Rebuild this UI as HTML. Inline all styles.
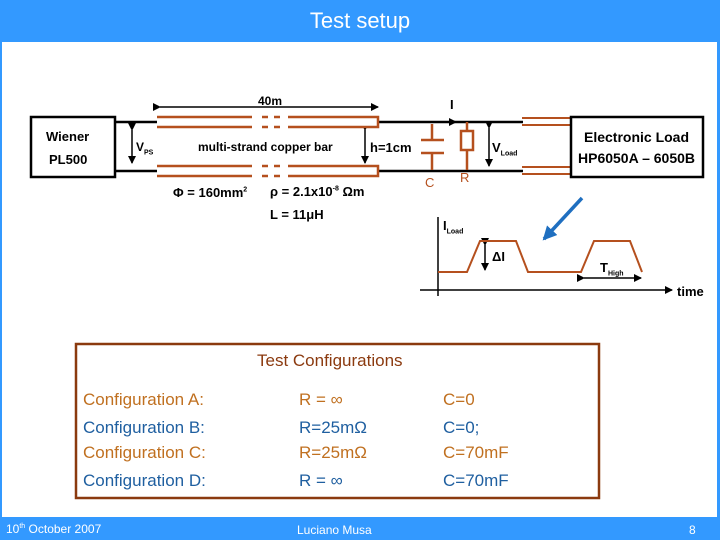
<!DOCTYPE html>
<html><head><style>
body{margin:0;width:720px;height:540px;overflow:hidden;background:#3399FF;font-family:"Liberation Sans",sans-serif;}
#w{position:absolute;left:2px;top:42px;width:715px;height:475px;background:#fff;}
.t{position:absolute;white-space:nowrap;}
</style></head><body>
<div id="w"></div>
<div class="t" style="left:0;width:720px;top:8px;text-align:center;color:#fff;font-size:22px;">Test setup</div>
<svg style="position:absolute;left:0;top:0" width="720" height="540">
<defs><marker id="a" markerWidth="8" markerHeight="8" refX="7" refY="4" orient="auto" markerUnits="userSpaceOnUse"><path d="M0,0 L8,4 L0,8 z" fill="#000"/></marker>
<marker id="b" markerWidth="14" markerHeight="14" refX="12" refY="7" orient="auto" markerUnits="userSpaceOnUse"><path d="M0,0 L14,7 L0,14 z" fill="#1F6FC0"/></marker></defs>
<rect x="31" y="117" width="84" height="60" fill="none" stroke="#000" stroke-width="2.5"/>
<g stroke="#000" stroke-width="2.5"><line x1="115" y1="122" x2="157" y2="122"/><line x1="115" y1="171" x2="157" y2="171"/>
<line x1="378" y1="122" x2="523" y2="122"/><line x1="378" y1="171" x2="523" y2="171"/></g>
<g stroke="#000" stroke-width="1.5" fill="none">
<line x1="132" y1="130" x2="132" y2="163" marker-start="url(#a)" marker-end="url(#a)"/>
<line x1="160" y1="107" x2="378" y2="107" marker-start="url(#a)" marker-end="url(#a)"/>
<line x1="365" y1="130" x2="365" y2="163" marker-start="url(#a)" marker-end="url(#a)"/>
<line x1="489" y1="128" x2="489" y2="166" marker-start="url(#a)" marker-end="url(#a)"/>
<line x1="440" y1="122" x2="456" y2="122" marker-end="url(#a)"/>
<line x1="485" y1="245" x2="485" y2="270" marker-start="url(#a)" marker-end="url(#a)"/>
<line x1="584" y1="278" x2="641" y2="278" marker-start="url(#a)" marker-end="url(#a)"/>
<line x1="438" y1="217" x2="438" y2="296"/>
<line x1="420" y1="290" x2="672" y2="290" marker-end="url(#a)"/>
</g>
<g fill="#fff" stroke="#B5501E" stroke-width="2.5">
<path d="M157,117 H252 M262,117 H268 M274,117 H280 M288,117 H378 V127 H288 M280,127 H274 M268,127 H262 M252,127 H157 Z"/>
<path d="M157,166 H252 M262,166 H268 M274,166 H280 M288,166 H378 V176 H288 M280,176 H274 M268,176 H262 M252,176 H157 Z"/>
</g>
<g stroke="#B5501E" stroke-width="2.5" fill="none">
<line x1="432" y1="124" x2="432" y2="140"/><line x1="421" y1="140" x2="444" y2="140"/>
<line x1="421" y1="153" x2="444" y2="153"/><line x1="432" y1="153" x2="432" y2="170"/>
<line x1="467" y1="122" x2="467" y2="131"/><rect x="461" y="131" width="12" height="19"/><line x1="467" y1="150" x2="467" y2="170"/>
<path d="M522,118 H570 M522,125 H570 M522,167 H570 M522,174 H570" stroke-width="2"/>
<polyline points="438,272 467,272 480,241 516,241 528,272 581,272 594,241 630,241 642,272" stroke-width="2"/>
</g>
<rect x="571" y="117" width="132" height="60" fill="none" stroke="#000" stroke-width="2.5"/>
<line x1="582" y1="198" x2="544" y2="239" stroke="#1F6FC0" stroke-width="3.5" marker-end="url(#b)"/>
<rect x="76" y="344" width="523" height="154" fill="none" stroke="#8B3A0F" stroke-width="2.5"/>
</svg>
<div style="font-size:13px;font-weight:bold;">
<div class="t" style="left:46px;top:129px;">Wiener</div>
<div class="t" style="left:49px;top:152px;">PL500</div>
<div class="t" style="left:136px;top:140px;font-size:12px;">V<sub style="font-size:7px">PS</sub></div>
<div class="t" style="left:198px;top:140px;font-size:12px;">multi-strand copper bar</div>
<div class="t" style="left:258px;top:94px;font-size:12px;">40m</div>
<div class="t" style="left:450px;top:97px;">I</div>
<div class="t" style="left:370px;top:140px;">h=1cm</div>
<div class="t" style="left:492px;top:140px;">V<sub style="font-size:7px">Load</sub></div>
<div class="t" style="left:425px;top:175px;color:#B5501E;font-weight:normal;">C</div>
<div class="t" style="left:460px;top:170px;color:#B5501E;font-weight:normal;">R</div>
<div class="t" style="left:584px;top:129px;font-size:14px;">Electronic Load</div>
<div class="t" style="left:578px;top:150px;font-size:14px;">HP6050A – 6050B</div>
<div class="t" style="left:173px;top:185px;">Φ = 160mm<sup style="font-size:7px">2</sup></div>
<div class="t" style="left:270px;top:184px;">ρ = 2.1x10<sup style="font-size:7px">-8</sup> Ωm</div>
<div class="t" style="left:270px;top:207px;">L = 11μH</div>
<div class="t" style="left:443px;top:218px;">I<sub style="font-size:7px">Load</sub></div>
<div class="t" style="left:492px;top:249px;">ΔI</div>
<div class="t" style="left:600px;top:260px;">T<sub style="font-size:7px">High</sub></div>
<div class="t" style="left:677px;top:284px;">time</div>
</div>
<div style="font-size:17px;">
<div class="t" style="left:257px;top:351px;color:#8B3A0F;">Test Configurations</div>
<div class="t" style="left:83px;top:390px;color:#C07020;">Configuration A:</div>
<div class="t" style="left:299px;top:390px;color:#C07020;">R = ∞</div>
<div class="t" style="left:443px;top:390px;color:#C07020;">C=0</div>
<div class="t" style="left:83px;top:418px;color:#1F5FA0;">Configuration B:</div>
<div class="t" style="left:299px;top:418px;color:#1F5FA0;">R=25mΩ</div>
<div class="t" style="left:443px;top:418px;color:#1F5FA0;">C=0;</div>
<div class="t" style="left:83px;top:443px;color:#C07020;">Configuration C:</div>
<div class="t" style="left:299px;top:443px;color:#C07020;">R=25mΩ</div>
<div class="t" style="left:443px;top:443px;color:#C07020;">C=70mF</div>
<div class="t" style="left:83px;top:471px;color:#1F5FA0;">Configuration D:</div>
<div class="t" style="left:299px;top:471px;color:#1F5FA0;">R = ∞</div>
<div class="t" style="left:443px;top:471px;color:#1F5FA0;">C=70mF</div>
</div>
<div style="color:#fff;font-size:12px;">
<div class="t" style="left:6px;top:522px;">10<sup style="font-size:7px">th</sup> October 2007</div>
<div class="t" style="left:297px;top:523px;">Luciano Musa</div>
<div class="t" style="left:689px;top:523px;">8</div>
</div>
</body></html>
